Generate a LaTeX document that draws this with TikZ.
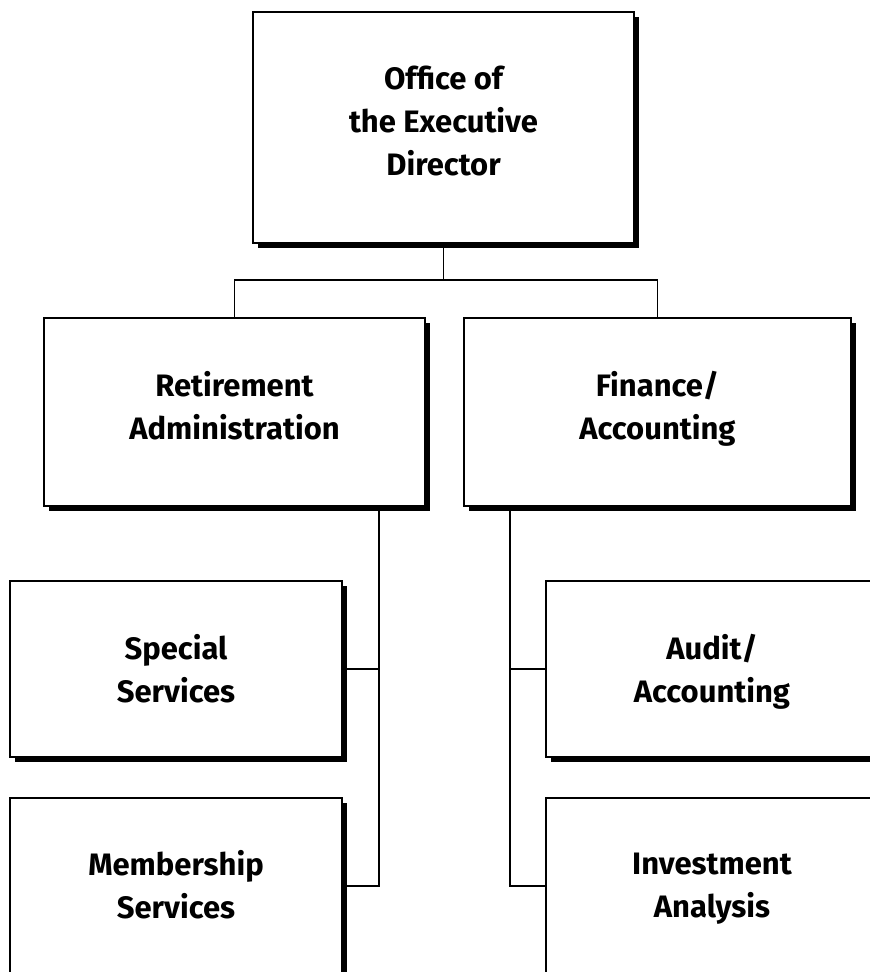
\documentclass[tikz,border=0pt]{standalone}
\usepackage{fontspec}
\setmainfont{Fira Sans}
\usetikzlibrary{shadows}
\newcommand\boxtext[3]{\rule{0pt}{#1}#3\rule[-#2]{0pt}{#2}}
\begin{document}
\begin{tikzpicture}[x=1pt,y=-1pt,
  box/.style={draw=black, fill=white, line width=1.3pt, rectangle, align=center,
    inner sep=0pt, font=\fontsize{31}{43}\selectfont\bfseries,
    general shadow={fill=black, shadow xshift=5pt, shadow yshift=-5pt}},
  conn/.style={draw=black, line width=1.4pt}]
\useasboundingbox (0,0) rectangle (870,972);
\clip (0,0) rectangle (870,972);
\node[box, minimum width=381pt, minimum height=231pt] (top) at (443.5,127.5) {\boxtext{30pt}{21pt}{Office of\\the Executive\\Director}};
\node[box, minimum width=381pt, minimum height=188pt] (ret) at (234.5,412) {\boxtext{30pt}{19pt}{Retirement\\Administration}};
\node[box, minimum width=387pt, minimum height=188pt] (fin) at (657.5,412) {\boxtext{30pt}{19pt}{Finance/\\Accounting}};
\node[box, minimum width=332pt, minimum height=176pt] (spec) at (176,669) {\boxtext{32pt}{9pt}{Special\\Services}};
\node[box, minimum width=332pt, minimum height=176pt] (mem) at (176,886) {\boxtext{32pt}{11pt}{Membership\\Services}};
\node[box, minimum width=332pt, minimum height=176pt] (aud) at (712,669) {\boxtext{32pt}{9pt}{Audit/\\Accounting}};
\node[box, minimum width=332pt, minimum height=176pt] (inv) at (712,886) {\boxtext{32pt}{13pt}{Investment\\Analysis}};
\coordinate (bus) at (0,280);
\coordinate (rv) at (379,0);
\coordinate (fv) at (510,0);
\draw[conn] (top.south) -- (top.south |- bus);
\draw[conn] (ret.north) -- (ret.north |- bus) -- (fin.north |- bus) -- (fin.north);
\draw[conn] (rv |- ret.south) -- (rv |- mem.east) -- (mem.east);
\draw[conn] (spec.east) -- (rv |- spec.east);
\draw[conn] (fv |- fin.south) -- (fv |- inv.west) -- (inv.west);
\draw[conn] (aud.west) -- (fv |- aud.west);
\end{tikzpicture}
\end{document}
